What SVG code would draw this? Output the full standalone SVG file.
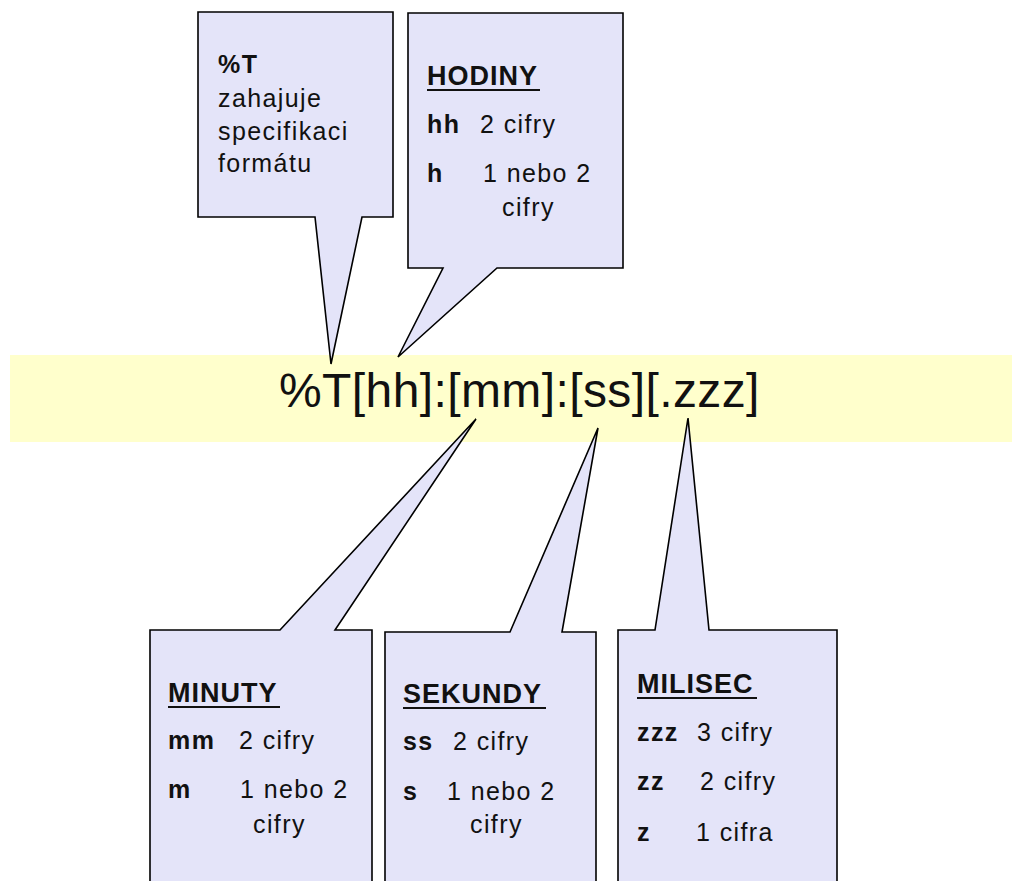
<svg xmlns="http://www.w3.org/2000/svg" width="1012" height="881" viewBox="0 0 1012 881">
  <style>
    .callout { fill: #E4E4F9; stroke: #000; stroke-width: 1.6; stroke-linejoin: miter; }
    .t { font-family: "Liberation Sans", Arial, sans-serif; font-size: 25px; letter-spacing: 1.4px; fill: #111; }
    .b { font-weight: bold; }
    .h { font-family: "Liberation Sans", Arial, sans-serif; font-size: 27px; font-weight: bold; letter-spacing: 1px; fill: #111; }
    .ul { stroke: #111; stroke-width: 2; }
    .fmt { font-family: "Liberation Sans", Arial, sans-serif; font-size: 48px; letter-spacing: 0.4px; fill: #111; }
  </style>
  <rect width="1012" height="881" fill="#fff"/>

  <!-- format string band -->
  <g id="format">
    <rect x="10" y="355" width="1002" height="87" fill="#FFFFCC"/>
    <text class="fmt" x="279" y="407">%T[hh]:[mm]:[ss][.zzz]</text>
  </g>

  <!-- callout shapes (box + pointer) -->
  <g id="connectors">
    <path class="callout" d="M198,12 H393 V217 H362 L331,364 L315,217 H198 Z"/>
    <path class="callout" d="M408,13 H623 V268 H497 L398,357 L443,268 H408 Z"/>
    <path class="callout" d="M150,630 H280 L476,419 L335,630 H372 V895 H150 Z"/>
    <path class="callout" d="M385,632 H510 L598,428 L562,632 H596 V895 H385 Z"/>
    <path class="callout" d="M618,630 H655 L688,418 L709,630 H837 V895 H618 Z"/>
  </g>

  <g id="start">
    <text class="t b" x="218" y="73">%T</text>
    <text class="t" x="218" y="107">zahajuje</text>
    <text class="t" x="218" y="140">specifikaci</text>
    <text class="t" x="218" y="172">formátu</text>
  </g>

  <g id="hodiny">
    <text class="h" x="427" y="85">HODINY</text>
    <line class="ul" x1="427" y1="90" x2="540" y2="90"/>
    <text class="t b" x="427" y="133">hh</text>
    <text class="t" x="480" y="133">2 cifry</text>
    <text class="t b" x="427" y="182">h</text>
    <text class="t" x="483" y="182">1 nebo 2</text>
    <text class="t" x="502" y="216">cifry</text>
  </g>

  <g id="minuty">
    <text class="h" x="168" y="702">MINUTY</text>
    <line class="ul" x1="168" y1="707" x2="280" y2="707"/>
    <text class="t b" x="168" y="749">mm</text>
    <text class="t" x="239" y="749">2 cifry</text>
    <text class="t b" x="168" y="798">m</text>
    <text class="t" x="240" y="798">1 nebo 2</text>
    <text class="t" x="253" y="833">cifry</text>
  </g>

  <g id="sekundy">
    <text class="h" x="403" y="703">SEKUNDY</text>
    <line class="ul" x1="403" y1="708" x2="546" y2="708"/>
    <text class="t b" x="403" y="750">ss</text>
    <text class="t" x="453" y="750">2 cifry</text>
    <text class="t b" x="403" y="800">s</text>
    <text class="t" x="447" y="800">1 nebo 2</text>
    <text class="t" x="470" y="833">cifry</text>
  </g>

  <g id="milisec">
    <text class="h" x="637" y="693">MILISEC</text>
    <line class="ul" x1="637" y1="698" x2="757" y2="698"/>
    <text class="t b" x="637" y="741">zzz</text>
    <text class="t" x="697" y="741">3 cifry</text>
    <text class="t b" x="637" y="790">zz</text>
    <text class="t" x="700" y="790">2 cifry</text>
    <text class="t b" x="637" y="841">z</text>
    <text class="t" x="696" y="841">1 cifra</text>
  </g>
</svg>
